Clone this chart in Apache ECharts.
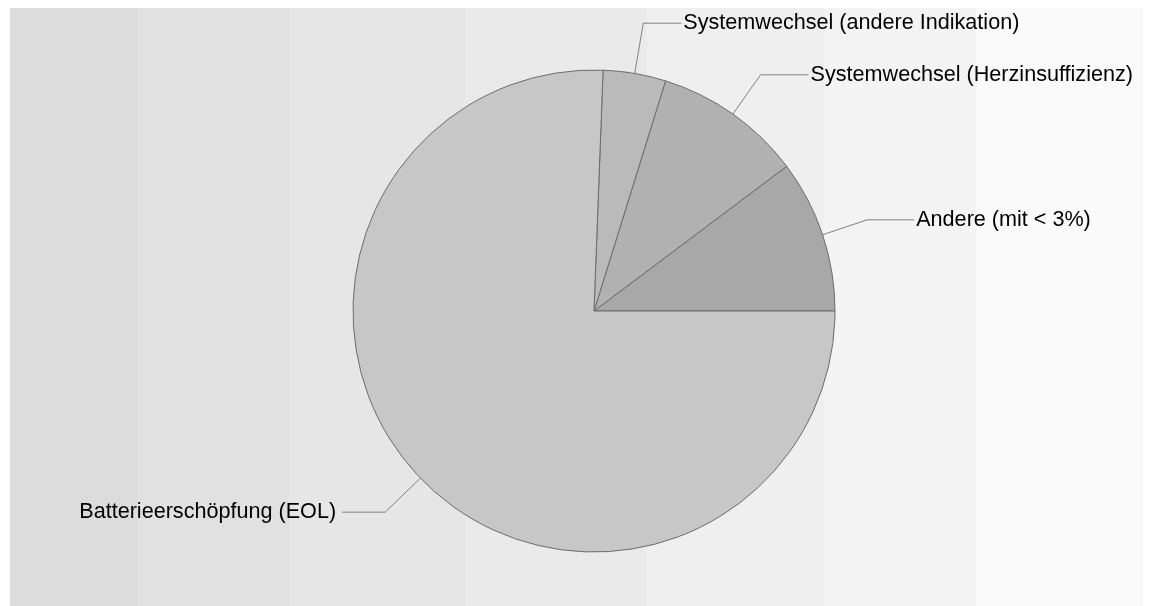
<!DOCTYPE html>
<html>
<head>
<meta charset="utf-8">
<title>Pie</title>
<script src="https://cdn.jsdelivr.net/npm/echarts@6/dist/echarts.min.js"></script>
<style>
    html, body { margin: 0; padding: 0; background: #ffffff; }
    #main { width: 1152px; height: 606px; }
</style>
</head>
<body>
<div id="main"></div>
<script>
    // data (share in %)
    var categories = ['Andere (mit < 3%)', 'Systemwechsel (Herzinsuffizienz)', 'Systemwechsel (andere Indikation)', 'Batterieerschöpfung (EOL)'];
    var values = [10.25, 9.95, 4.2, 75.6];

    var sliceColors = ['#a8a8a8', '#b1b1b1', '#bababa', '#c7c7c7'];
    var lineLen = [47, 48, 51, 49];
    var lineLen2 = [47, 48, 38, 43];
    var labelGap = [2, 2, 2, 6];

    // background stripes
    var bandEdges = [10, 137, 289, 465, 647, 824, 976, 1143];
    var bandColors = ['#dcdcdc', '#e1e1e1', '#e6e6e6', '#eaeaea', '#efefef', '#f4f4f4', '#fafafa'];

    var bands = [];
    for (var i = 0; i < bandColors.length; i++) {
        bands.push({
            type: 'rect',
            silent: true,
            z: -10,
            shape: { x: bandEdges[i], y: 8, width: bandEdges[i + 1] - bandEdges[i], height: 598 },
            style: { fill: bandColors[i] }
        });
    }

    var pieData = categories.map(function (name, i) {
        return {
            name: name,
            value: values[i],
            itemStyle: { color: sliceColors[i] },
            label: { distanceToLabelLine: labelGap[i] },
            labelLine: { length: lineLen[i], length2: lineLen2[i] }
        };
    });

    var myChart = echarts.init(document.getElementById('main'));
    var option = {
        animation: false,
        backgroundColor: '#ffffff',
        graphic: bands,
        series: [
            {
                type: 'pie',
                center: [594, 311],
                radius: 241,
                startAngle: 0,
                clockwise: false,
                avoidLabelOverlap: false,
                itemStyle: { borderColor: '#6c6c6c', borderWidth: 1 },
                label: {
                    show: true,
                    color: '#000000',
                    fontFamily: 'Liberation Sans, Arial, sans-serif',
                    fontSize: 21.6,
                    distanceToLabelLine: 2
                },
                labelLine: {
                    show: true,
                    lineStyle: { color: '#808080', width: 1 }
                },
                emphasis: { disabled: true },
                data: pieData
            }
        ]
    };
    myChart.setOption(option);
</script>
</body>
</html>
